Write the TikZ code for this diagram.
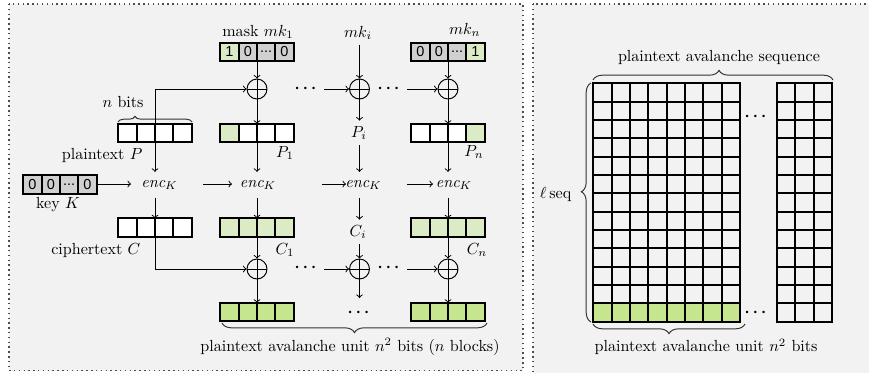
\documentclass[tikz,border=0pt]{standalone}
\usepackage{amsmath}
\usepackage{fontspec}
\newfontfamily\cellfont{Liberation Sans}
\usetikzlibrary{decorations.pathreplacing}
\definecolor{bggray}{RGB}{242,242,242}
\definecolor{cellgray}{RGB}{208,208,208}
\definecolor{lgreen}{RGB}{218,235,198}
\definecolor{mgreen}{RGB}{197,229,143}
\tikzset{
 panel/.style={fill=bggray, draw=black!70, line width=0.9pt, dash pattern=on 0.9pt off 2.1pt},
 cellnode/.style={draw, line width=1.1pt, minimum width=11.4pt, minimum height=11.4pt, inner sep=0pt, font=\cellfont\small},
 boxframe/.style={minimum width=45.6pt, minimum height=11.4pt, inner sep=0pt, outer sep=0pt},
 xornode/.style={circle, draw, line width=0.6pt, minimum size=12.4pt, inner sep=0pt},
 conn/.style={->, line width=0.6pt},
 thinline/.style={line width=0.6pt},
 encnode/.style={inner xsep=2pt, inner ysep=5pt},
 dotsnode/.style={anchor=mid, inner xsep=3pt, inner ysep=1pt},
 bracedeco/.style={decorate, decoration={brace,#1}, line width=0.6pt, draw=black!80},
 gridline/.style={line width=1.1pt, line cap=rect},
}
\newcommand{\celldots}{\kern-0.5pt...\kern-0.5pt}
\newcommand{\cellbox}[3]{%
  \node[boxframe] (#1) at (#2) {};
  \foreach \cf/\ct [count=\ci] in {#3} {
    \node[cellnode, fill=\cf] (#1-\ci) at ([xshift={(\ci-0.5)*11.4pt}]#1.west) {\ct};
  }
}
\newcommand{\xorat}[2]{%
  \node[xornode] (#1) at (#2) {};
  \draw[thinline] (#1.north) -- (#1.south) (#1.west) -- (#1.east);
}
\newcommand{\bdots}{$\boldsymbol{\cdots}$}
\begin{document}
\begin{tikzpicture}[x=0.622pt,y=-0.622pt]
\useasboundingbox (0,0) rectangle (869,372);
\clip (0,0) rectangle (869,372);
% panels
\draw[panel] (9,4) rectangle (523,370.5);
\draw[panel] (533,4) rectangle (885,390);

% ---------- left panel ----------
% boxes
\cellbox{mask1}{257,52}{lgreen/1,cellgray/0,cellgray/\celldots,cellgray/0}
\cellbox{maskn}{448,52}{cellgray/0,cellgray/0,cellgray/\celldots,lgreen/1}
\cellbox{P}{155,133}{white/{},white/{},white/{},white/{}}
\cellbox{P1}{257,133}{lgreen/{},white/{},white/{},white/{}}
\cellbox{Pn}{448,133}{white/{},white/{},white/{},lgreen/{}}
\cellbox{key}{60,184.5}{cellgray/0,cellgray/0,cellgray/\celldots,cellgray/0}
\cellbox{C}{155,227.5}{white/{},white/{},white/{},white/{}}
\cellbox{C1}{257,227.5}{lgreen/{},lgreen/{},lgreen/{},lgreen/{}}
\cellbox{Cn}{448,227.5}{lgreen/{},lgreen/{},lgreen/{},lgreen/{}}
\cellbox{O1}{257,312}{mgreen/{},mgreen/{},mgreen/{},mgreen/{}}
\cellbox{On}{448,312}{mgreen/{},mgreen/{},mgreen/{},mgreen/{}}

% labels
\node (mask1l) at (258,32) {mask $mk_1$};
\node (mki) at (358,33) {$mk_i$};
\node[anchor=east] (mknl) at (486,30) {$mk_n$};
\node (nbits) at (123,102) {$n$ bits};
\node[anchor=east] (ptl) at (148,155) {plaintext $P$};
\node (P1l) at (285,153) {$P_1$};
\node (Pi) at (359,133) {$P_i$};
\node (Pnl) at (474,152) {$P_n$};
\node (keyl) at (58,205) {key $K$};
\node[anchor=east] (ctl) at (146,250) {ciphertext $C$};
\node (C1l) at (285,250) {$C_1$};
\node (Ci) at (358,232) {$C_i$};
\node (Cnl) at (477,250) {$C_n$};
\node (unitl) at (350,347) {plaintext avalanche unit $n^2$ bits ($n$ blocks)};

% enc nodes
\node[encnode] (e1) at (159.5,185) {$\mathit{enc}_K$};
\node[encnode] (e2) at (258,185) {$\mathit{enc}_K$};
\node[encnode] (e3) at (363.5,185) {$\mathit{enc}_K$};
\node[encnode] (e4) at (454,185) {$\mathit{enc}_K$};

% xors
\xorat{x1}{257,89}
\xorat{xi}{359.5,89}
\xorat{xn}{448,89}
\xorat{y1}{257,269}
\xorat{yi}{359.5,269}
\xorat{yn}{448,269}

% dots
\node[dotsnode] (d1) at (307,89) {\bdots};
\node[dotsnode] (d2) at (390,89) {\bdots};
\node[dotsnode] (d3) at (307,268) {\bdots};
\node[dotsnode] (d4) at (390,268) {\bdots};
\node[dotsnode] (d5) at (360,313) {\bdots};

% brace over P
\draw[bracedeco={amplitude=3.5pt,aspect=0.23}] (118,122) -- (192,122);
% bottom brace
\draw[bracedeco={amplitude=6pt,aspect=0.5}] (487,323) -- (222,323);

% column 1
\draw[conn] (P.north) |- (x1.west);
\draw[conn] (P.south) -- (P.south |- e1.north);
\draw[conn] (P.south |- e1.south) -- (C.north);
\draw[conn] (C.south) |- (y1.west);

% column 2
\draw[conn] (mask1.south) -- (x1.north);
\draw[conn] (x1.south) -- (P1.north);
\draw[conn] (P1.south) -- (P1.south |- e2.north);
\draw[conn] (P1.south |- e2.south) -- (C1.north);
\draw[conn] (C1.south) -- (y1.north);
\draw[conn] (y1.south) -- (O1.north);

% column 3
\draw[conn] (xi.north |- mki.south) -- (xi.north);
\draw[conn] (xi.south) -- (xi.south |- Pi.north);
\draw[conn] (xi.south |- Pi.south) -- (xi.south |- e3.north);
\draw[conn] (xi.south |- e3.south) -- (xi.south |- Ci.north);
\draw[conn] (xi.south |- Ci.south) -- (yi.north);
\coordinate (yiend) at (359.5,298);
\draw[conn] (yi.south) -- (yiend);

% column 4
\draw[conn] (maskn.south) -- (xn.north);
\draw[conn] (xn.south) -- (Pn.north);
\draw[conn] (Pn.south) -- (Pn.south |- e4.north);
\draw[conn] (Pn.south |- e4.south) -- (Cn.north);
\draw[conn] (Cn.south) -- (yn.north);
\draw[conn] (yn.south) -- (On.north);

% horizontal chain
\draw[conn] (d1.mid east) -- (xi.west);
\draw[conn] (d2.mid east) -- (xn.west);
\draw[conn] (d3.mid east |- yi.west) -- (yi.west);
\draw[conn] (d4.mid east |- yn.west) -- (yn.west);

% enc row arrows
\coordinate (k1) at (131,184);
\coordinate (h1a) at (203,184);
\coordinate (h1b) at (232,184);
\coordinate (h2a) at (322,184);
\coordinate (h2b) at (346,184);
\coordinate (h3a) at (407,184);
\coordinate (h3b) at (433,184);
\draw[conn] (key.east |- k1) -- (k1);
\draw[conn] (h1a) -- (h1b);
\draw[conn] (h2a) -- (h2b);
\draw[conn] (h3a) -- (h3b);

% ---------- right panel ----------
\fill[mgreen] (593.3,303.3) rectangle (740,321.7);
\foreach \i in {0,...,8} \draw[gridline] (593.3+\i*18.333,83.3) -- (593.3+\i*18.333,321.7);
\foreach \j in {0,...,13} \draw[gridline] (593.3,83.3+\j*18.333) -- (740,83.3+\j*18.333);
\foreach \i in {0,...,3} \draw[gridline] (777+\i*18.333,83.3) -- (777+\i*18.333,321.7);
\foreach \j in {0,...,13} \draw[gridline] (777,83.3+\j*18.333) -- (832,83.3+\j*18.333);

\node[dotsnode] (rd1) at (757,117) {\bdots};
\node[dotsnode] (rd2) at (757,313) {\bdots};

\draw[bracedeco={amplitude=6pt,aspect=0.525}] (593,80) -- (833,80);
\draw[bracedeco={amplitude=6pt,aspect=0.545}] (591,322) -- (591,83);
\draw[bracedeco={amplitude=6pt,aspect=0.5}] (745,324) -- (593,324);

\node (seql) at (719,57) {plaintext avalanche sequence};
\node[anchor=east] (lseq) at (577,194) {$\ell$\,seq};
\node[anchor=west] (runitl) at (589,347) {plaintext avalanche unit $n^2$ bits};
\end{tikzpicture}
\end{document}
